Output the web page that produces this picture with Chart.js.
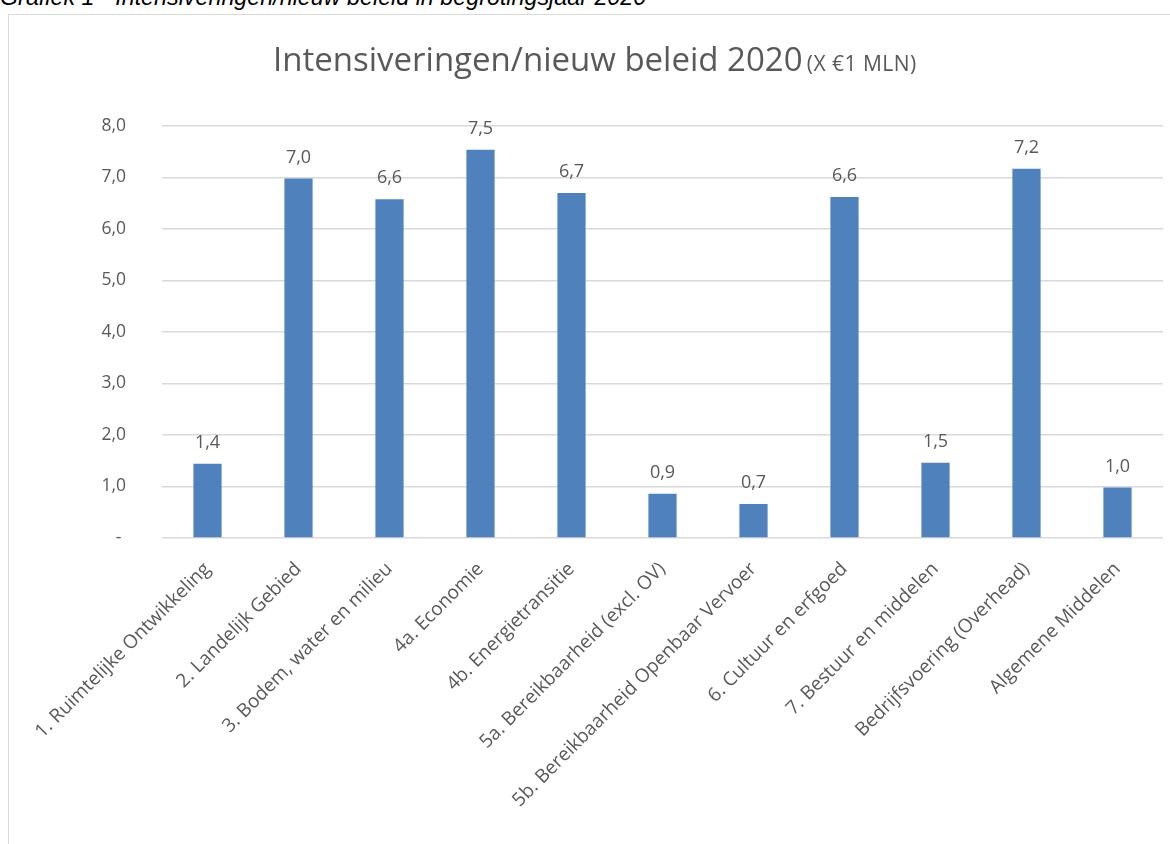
<!DOCTYPE html>
<html lang="nl">
<head>
    <meta charset="UTF-8">
    <title>Intensiveringen/nieuw beleid 2020</title>
    <script src="https://cdn.jsdelivr.net/npm/chart.js"></script>
    <style>
        body {
            margin: 0;
            width: 1170px;
            height: 844px;
            overflow: hidden;
            background: #fff;
            position: relative;
        }
        .caption {
            position: absolute;
            left: 0;
            top: -14px;
            font-family: "Liberation Sans", Arial, sans-serif;
            font-style: italic;
            font-size: 23.3px;
            line-height: 23px;
            color: #000;
            white-space: nowrap;
        }
        .frame {
            position: absolute;
            left: 8px;
            top: 14px;
            width: 1200px;
            height: 900px;
            border: 1px solid #d9d9d9;
            pointer-events: none;
        }
        .title {
            position: absolute;
            left: 273px;
            top: 42px;
            font-family: "Open Sans", sans-serif;
            color: #595959;
            white-space: nowrap;
            line-height: 1;
        }
        .title .main { font-size: 33px; }
        .title .unit { font-size: 21px; letter-spacing: 0.5px; }
        canvas {
            position: absolute;
            left: 0;
            top: 0;
        }
    </style>
</head>
<body>
    <div class="caption">Grafiek 1 - Intensiveringen/nieuw beleid in begrotingsjaar 2020</div>
    <canvas id="myChart" width="1170" height="844"></canvas>
    <div class="frame"></div>
    <div class="title"><span class="main">Intensiveringen/nieuw beleid 2020</span> <span class="unit">(X €1 MLN)</span></div>

    <script>
        // Categorieën (programma's)
        const categories = [
            '1. Ruimtelijke Ontwikkeling',
            '2. Landelijk Gebied',
            '3. Bodem, water en milieu',
            '4a. Economie',
            '4b. Energietransitie',
            '5a. Bereikbaarheid (excl. OV)',
            '5b. Bereikbaarheid Openbaar Vervoer',
            '6. Cultuur en erfgoed',
            '7. Bestuur en middelen',
            'Bedrijfsvoering (Overhead)',
            'Algemene Middelen'
        ];

        const values = [1.44, 6.98, 6.58, 7.54, 6.70, 0.86, 0.66, 6.62, 1.46, 7.17, 0.98];

        // Labels boven de staven
        const valueLabels = ['1,4', '7,0', '6,6', '7,5', '6,7', '0,9', '0,7', '6,6', '1,5', '7,2', '1,0'];

        // Y-as
        const yTicks = [0, 1, 2, 3, 4, 5, 6, 7, 8];
        const yTickLabels = ['- ', '1,0', '2,0', '3,0', '4,0', '5,0', '6,0', '7,0', '8,0'];

        const textColor = '#595959';
        const fontFamily = '"Open Sans", sans-serif';

        // Waarden boven de staven tekenen
        const barLabels = {
            id: 'barLabels',
            afterDatasetsDraw(chart) {
                const ctx = chart.ctx;
                const meta = chart.getDatasetMeta(0);
                ctx.save();
                ctx.font = '18px ' + fontFamily;
                ctx.fillStyle = textColor;
                ctx.textAlign = 'center';
                ctx.textBaseline = 'alphabetic';
                meta.data.forEach((bar, i) => {
                    ctx.fillText(valueLabels[i], bar.x, bar.y - 16);
                });
                ctx.restore();
            }
        };

        const ctx = document.getElementById('myChart').getContext('2d');
        const chart = new Chart(ctx, {
            type: 'bar',
            data: {
                labels: categories,
                datasets: [{
                    data: values,
                    backgroundColor: '#4f81bd',
                    categoryPercentage: 1,
                    barPercentage: 0.31
                }]
            },
            options: {
                responsive: false,
                animation: false,
                devicePixelRatio: 1,
                layout: {
                    padding: { left: 0, right: 7, top: 126, bottom: 0 }
                },
                plugins: {
                    legend: { display: false },
                    title: { display: false },
                    tooltip: { enabled: false }
                },
                scales: {
                    y: {
                        min: 0,
                        max: 8,
                        afterFit: (scale) => { scale.width = 162; },
                        afterBuildTicks: (scale) => {
                            scale.ticks = yTicks.map(v => ({ value: v }));
                        },
                        ticks: {
                            padding: 36,
                            color: textColor,
                            font: { family: fontFamily, size: 17.5 },
                            callback: (v) => yTickLabels[yTicks.indexOf(v)]
                        },
                        grid: {
                            color: '#d9d9d9',
                            lineWidth: 1.5,
                            drawTicks: false
                        },
                        border: { display: false }
                    },
                    x: {
                        afterFit: (scale) => { scale.height = 844 - 538; },
                        ticks: {
                            autoSkip: false,
                            minRotation: 45,
                            maxRotation: 45,
                            padding: 12,
                            color: textColor,
                            font: { family: fontFamily, size: 19 }
                        },
                        grid: { display: false },
                        border: { display: false }
                    }
                }
            },
            plugins: [barLabels]
        });
    </script>
</body>
</html>
